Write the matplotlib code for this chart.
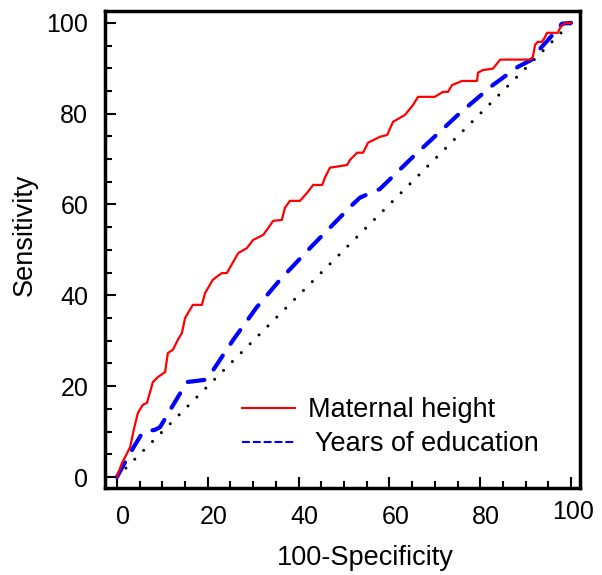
import matplotlib
matplotlib.use('Agg')
import matplotlib.pyplot as plt
import matplotlib.transforms as mtransforms
from matplotlib.lines import Line2D
from matplotlib.ticker import MultipleLocator

plt.rcParams['font.family'] = ['Liberation Sans', 'DejaVu Sans']
plt.rcParams['xtick.direction'] = 'in'
plt.rcParams['ytick.direction'] = 'in'
plt.rcParams['xtick.major.size'] = 8
plt.rcParams['ytick.major.size'] = 8
plt.rcParams['xtick.minor.size'] = 5
plt.rcParams['ytick.minor.size'] = 5
plt.rcParams['xtick.major.width'] = 1.5
plt.rcParams['ytick.major.width'] = 1.5
plt.rcParams['xtick.minor.width'] = 1.5
plt.rcParams['ytick.minor.width'] = 1.5

# ROC curve - Maternal height
height_x = [0, 1.1, 2.0, 2.9, 3.7, 4.6, 5.7, 6.6, 7.9, 9.0, 10.6, 11.2, 12.3, 13.4,
            14.3, 15.0, 16.7, 18.7, 19.4, 21.1, 22.0, 23.1, 24.2, 26.7, 28.6, 30.0,
            32.2, 33.3, 34.4, 36.3, 37.0, 38.1, 40.3, 41.9, 43.2, 45.2, 45.8, 46.9,
            50.7, 51.3, 52.9, 54.2, 55.3, 57.9, 59.5, 60.8, 63.4, 65.2, 66.3, 70.0,
            71.8, 72.9, 73.8, 76.0, 79.3, 79.5, 80.6, 82.8, 84.4, 91.0, 91.6, 92.1,
            92.7, 93.6, 94.3, 94.7, 97.1, 97.6, 98.2, 98.9, 100]
height_y = [0, 3.1, 4.8, 6.6, 10.4, 14.1, 15.9, 16.3, 20.9, 22.0, 23.1, 27.3, 28.0, 30.2,
            31.7, 35.0, 37.9, 37.9, 40.5, 43.4, 44.1, 44.9, 44.9, 49.3, 50.4, 52.2,
            53.3, 54.8, 56.4, 56.6, 59.3, 60.8, 60.8, 62.6, 64.3, 64.3, 65.9, 68.1,
            68.7, 69.8, 71.4, 71.4, 73.6, 74.9, 75.3, 78.2, 79.7, 81.9, 83.7, 83.7,
            84.8, 84.8, 86.3, 87.2, 87.2, 89.0, 89.6, 89.9, 91.9, 91.9, 92.5, 95.2,
            95.8, 95.8, 96.9, 97.8, 97.8, 98.9, 99.6, 100, 100]

# ROC curve - Years of education
educ_x = [0, 2.9, 5.7, 8.4, 9.5, 12.1, 15.4, 19.4, 20.5, 25.6, 30.8, 35.9, 42.5,
          51.8, 53.5, 55.3, 57.9, 65.2, 75.6, 82.8, 88.3, 91.4, 93.2, 96.0, 98.0, 100]
educ_y = [0, 5.3, 9.9, 10.4, 11.0, 15.4, 20.9, 21.4, 22.5, 30.2, 37.4, 43.4, 50.4,
          59.9, 61.5, 62.3, 63.4, 70.5, 80.2, 86.3, 90.3, 91.9, 94.3, 97.4, 99.8, 100]

ref_line = [0, 100]
ticks = [0, 20, 40, 60, 80, 100]
legend_labels = ['Maternal height', ' Years of education']

fig = plt.figure(figsize=(6.02, 5.75), dpi=100)
ax = fig.add_axes([105 / 602, 1 - 488 / 575, 475 / 602, 477 / 575])

ax.plot(ref_line, ref_line, color='black', lw=2.2, linestyle=(0, (0.01, 4.1)),
        dash_capstyle='round')
ax.plot(educ_x, educ_y, color='#0000ff', lw=3, linestyle=(0, (4.0, 3.4)),
        dash_capstyle='round', solid_joinstyle='round')
ax.plot(height_x, height_y, color='#ff0000', lw=1.6)

ax.set_xlim(-2.64, 101.98)
ax.set_ylim(-2.42, 102.6)
ax.set_xticks(ticks)
ax.set_yticks(ticks)
ax.xaxis.set_minor_locator(MultipleLocator(5))
ax.yaxis.set_minor_locator(MultipleLocator(5))
ax.tick_params(axis='both', which='both', direction='in', top=False, right=False)
ax.tick_params(axis='both', which='major', labelsize=18, pad=12)
for s in ax.spines.values():
    s.set_linewidth(2.5)

# small shifts of the x tick labels as in the original
for i, lab in enumerate(ax.get_xticklabels()):
    if i < 5:
        off = mtransforms.ScaledTranslation(6 / 100, 0, fig.dpi_scale_trans)
    else:
        off = mtransforms.ScaledTranslation(2 / 100, 5 / 100, fig.dpi_scale_trans)
    lab.set_transform(lab.get_transform() + off)

ax.set_xlabel('100-Specificity', fontsize=19.5)
ax.set_ylabel('Sensitivity', fontsize=19.5)
ax.xaxis.set_label_coords(0.547, -0.12)
ax.yaxis.set_label_coords(-0.142, 0.53)

handles = [Line2D([], [], color='#ff0000', lw=1.5),
           Line2D([], [], color='#0000ff', lw=1.5, linestyle=(0, (3.8, 1.4)))]
ax.legend(handles, legend_labels, loc='upper left', frameon=False,
          bbox_to_anchor=(242 / 602, 1 - 397 / 575), bbox_transform=fig.transFigure,
          borderpad=0, borderaxespad=0, handlelength=1.95, handletextpad=0.48,
          labelspacing=0.3, fontsize=19.5)

plt.savefig('out.png', dpi=100)
